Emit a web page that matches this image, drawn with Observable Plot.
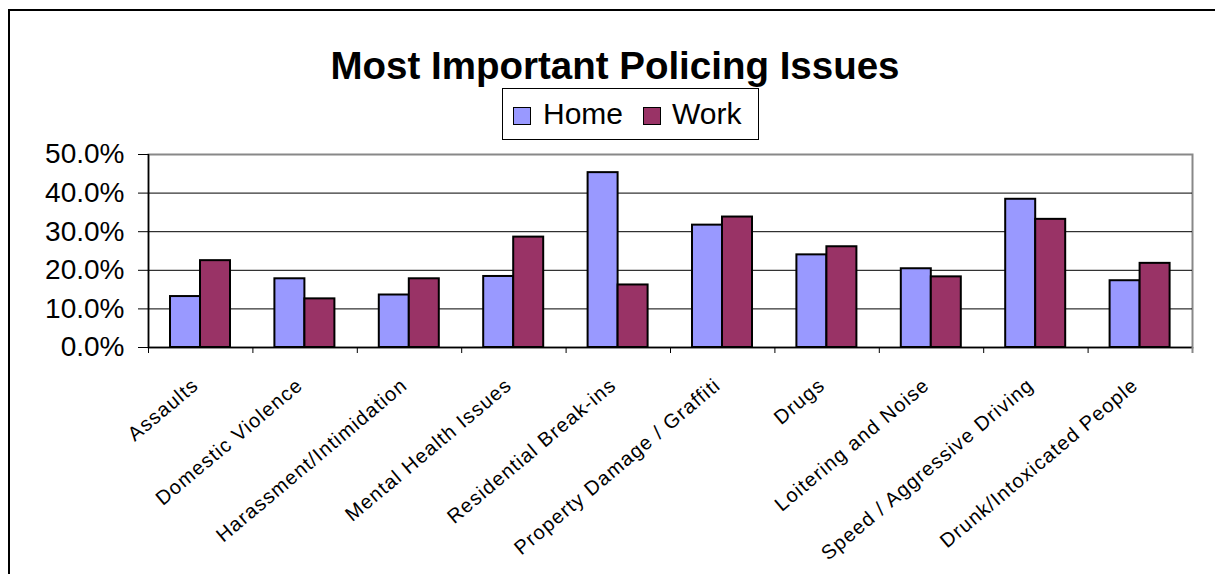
<!DOCTYPE html>
<html>
<head>
<meta charset="utf-8">
<script src="https://cdn.jsdelivr.net/npm/d3@7"></script>
<script src="https://cdn.jsdelivr.net/npm/@observablehq/plot@0.6"></script>
<style>
html, body { margin: 0; padding: 0; background: #fff; overflow: hidden; }
#wrap { position: relative; width: 1215px; height: 574px; font-family: "Liberation Sans", Arial, sans-serif; color: #000; overflow: hidden; }
#border { position: absolute; left: 8px; top: 9px; width: 1230px; height: 600px; border-top: 2px solid #000; border-left: 2px solid #000; }
#title { position: absolute; left: 0; width: 1230px; top: 47px; text-align: center; font-weight: bold; font-size: 38.5px; line-height: 38px; white-space: nowrap; }
#legend { position: absolute; left: 502px; top: 88px; width: 257px; height: 52px; box-sizing: border-box; border: 1px solid #000; background: #fff; }
#legend .sw { position: absolute; top: 18px; width: 18px; height: 18px; box-sizing: border-box; border: 1.5px solid #000; }
#legend .lb { position: absolute; top: 10px; font-size: 30px; line-height: 30px; white-space: nowrap; }
#chart { position: absolute; left: 0; top: 144px; }
g[aria-label="x-axis tick label"] text { letter-spacing: 1.15px; }
</style>
</head>
<body>
<div id="wrap">
  <div id="border"></div>
  <div id="title"></div>
  <div id="legend"></div>
  <div id="chart"></div>
</div>
<script>
const title = "Most Important Policing Issues";
const categories = [
  "Assaults",
  "Domestic Violence",
  "Harassment/Intimidation",
  "Mental Health Issues",
  "Residential Break-ins",
  "Property Damage / Graffiti",
  "Drugs",
  "Loitering and Noise",
  "Speed / Aggressive Driving",
  "Drunk/Intoxicated People"
];
const seriesNames = ["Home", "Work"];
const seriesColors = ["#9999FF", "#993366"];
const home = [0.132, 0.178, 0.136, 0.184, 0.453, 0.317, 0.240, 0.204, 0.384, 0.173];
const work = [0.225, 0.126, 0.178, 0.286, 0.162, 0.338, 0.261, 0.183, 0.332, 0.218];
const yTicks = [0, 0.1, 0.2, 0.3, 0.4, 0.5];

document.getElementById("title").textContent = title;

const legend = document.getElementById("legend");
const legendPos = [[10, 40], [140, 169]];
seriesNames.forEach((name, i) => {
  const sw = document.createElement("div");
  sw.className = "sw";
  sw.style.left = legendPos[i][0] + "px";
  sw.style.background = seriesColors[i];
  legend.appendChild(sw);
  const lb = document.createElement("div");
  lb.className = "lb";
  lb.style.left = legendPos[i][1] + "px";
  lb.textContent = name;
  legend.appendChild(lb);
});

const W = 1215, H = 430, mL = 148, mR = 23, mT = 10, mB = 227;
const bw = (W - mL - mR) / categories.length;
const yMax = yTicks[yTicks.length - 1];

const homeRows = categories.map((c, i) => ({category: c, value: home[i]}));
const workRows = categories.map((c, i) => ({category: c, value: work[i]}));

const chart = Plot.plot({
  width: W,
  height: H,
  marginTop: mT,
  marginBottom: mB,
  marginLeft: mL,
  marginRight: mR,
  style: {fontFamily: '"Liberation Sans", Arial, sans-serif', color: "#000", background: "transparent", overflow: "visible"},
  x: {domain: categories, padding: 0, round: false, axis: null, label: null},
  y: {domain: [0, yMax], axis: null, label: null},
  marks: [
    Plot.frame({stroke: "#888", strokeWidth: 2}),
    Plot.gridY(yTicks.filter(v => v > 0 && v < yMax), {stroke: "#000", strokeOpacity: 1, strokeWidth: 1}),
    Plot.barY(homeRows, {x: "category", y: "value", fill: seriesColors[0], stroke: "#000", strokeWidth: 2, insetLeft: 22, insetRight: bw - 52}),
    Plot.barY(workRows, {x: "category", y: "value", fill: seriesColors[1], stroke: "#000", strokeWidth: 2, insetLeft: 52, insetRight: bw - 82}),
    Plot.ruleY([0], {stroke: "#000", strokeWidth: 1.5}),
    Plot.ruleX([categories[0]], {x: d => d, dx: -bw / 2, y1: 0, y2: yMax, stroke: "#000", strokeWidth: 1.5}),
    Plot.ruleX(categories, {x: d => d, dx: -bw / 2, y1: 0, y2: 0, insetTop: 6, stroke: "#000"}),
    Plot.ruleX([categories[categories.length - 1]], {x: d => d, dx: bw / 2, y1: 0, y2: 0, insetTop: 6, stroke: "#888", strokeWidth: 2}),
    Plot.axisY(yTicks, {tickSize: 10, tickPadding: 14, tickFormat: d3.format(".1%"), fontSize: 28, label: null}),
    Plot.axisX(categories, {tickSize: 0, tickPadding: 35, dx: -5, tickRotate: -40, fontSize: 20, label: null})
  ]
});
document.getElementById("chart").appendChild(chart);
</script>
</body>
</html>
